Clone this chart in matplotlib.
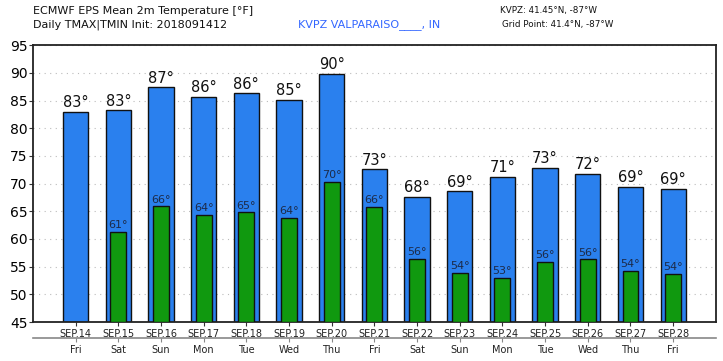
from matplotlib import pyplot as plt
import numpy as np

# data
dates = ['SEP.14', 'SEP.15', 'SEP.16', 'SEP.17', 'SEP.18', 'SEP.19', 'SEP.20', 'SEP.21',
         'SEP.22', 'SEP.23', 'SEP.24', 'SEP.25', 'SEP.26', 'SEP.27', 'SEP.28']
days = ['Fri', 'Sat', 'Sun', 'Mon', 'Tue', 'Wed', 'Thu', 'Fri',
        'Sat', 'Sun', 'Mon', 'Tue', 'Wed', 'Thu', 'Fri']
tmax = [82.9, 83.2, 87.4, 85.7, 86.3, 85.1, 89.8, 72.6, 67.6, 68.6, 71.2, 72.9, 71.7, 69.4, 69.0]
tmin = [None, 61.3, 65.9, 64.3, 64.8, 63.8, 70.3, 65.8, 56.4, 53.9, 53.0, 55.9, 56.3, 54.2, 53.7]

blue = '#2a80ee'
green = '#10990f'

fig = plt.figure(figsize=(7.23, 3.61), dpi=100)
ax = fig.add_axes([0.0456, 0.108, 0.9444, 0.767])

x = np.arange(len(dates))
base = 45

# max temp bars
ax.bar(x, np.array(tmax) - base, bottom=base, width=0.59, color=blue,
       edgecolor='#111111', linewidth=1.0, zorder=2)
for xi, v in zip(x, tmax):
    ax.text(xi, v + 0.3, '%d°' % round(v), ha='center', va='bottom',
            fontsize=10.5, color='#111111', zorder=4)

# min temp bars
for xi, v in zip(x, tmin):
    if v is None:
        continue
    ax.bar(xi, v - base, bottom=base, width=0.37, color=green,
           edgecolor='#111111', linewidth=1.0, zorder=3)
    ax.text(xi, v + 0.3, '%d°' % round(v), ha='center', va='bottom',
            fontsize=8, color='#1c2b4a', zorder=4)

ax.set_xlim(-1, 15)
ax.set_ylim(45, 95)
ax.set_yticks(np.arange(45, 96, 5))
ax.yaxis.grid(True, linestyle=(0, (1, 4)), color='#bbbbbb', linewidth=0.8, zorder=0)
ax.set_axisbelow(True)
ax.set_xticks(x)
ax.set_xticklabels(dates, fontsize=7, color='#222222')
ax.tick_params(axis='x', length=3, pad=2, color='#333333')
ax.tick_params(axis='y', labelsize=10, length=3, pad=1, color='#333333')
for s in ax.spines.values():
    s.set_linewidth(1.3)
    s.set_color('#222222')

# day names on a second axis under the dates
sec = ax.secondary_xaxis(-0.058)
sec.set_xticks(x)
sec.set_xticklabels(days, fontsize=7, color='#222222')
sec.tick_params(axis='x', length=3, pad=2, color='#888888')
sec.spines['bottom'].set_color('#888888')
sec.spines['bottom'].set_linewidth(1.2)

# header texts
fig.text(0.0456, 1 - 11 / 361, 'ECMWF EPS Mean 2m Temperature [°F]', fontsize=8,
         va='center', ha='left', color='#111111')
fig.text(0.0456, 1 - 25 / 361, 'Daily TMAX|TMIN Init: 2018091412', fontsize=8,
         va='center', ha='left', color='#111111')
fig.text(369 / 723, 1 - 25 / 361, 'KVPZ VALPARAISO____, IN', fontsize=8,
         va='center', ha='center', color='#3366ff')
fig.text(500 / 723, 1 - 11 / 361, 'KVPZ: 41.45°N, -87°W', fontsize=6.3,
         va='center', ha='left', color='#111111')
fig.text(502 / 723, 1 - 25 / 361, 'Grid Point: 41.4°N, -87°W', fontsize=6.3,
         va='center', ha='left', color='#111111')

fig.savefig('out.png', dpi=100)
